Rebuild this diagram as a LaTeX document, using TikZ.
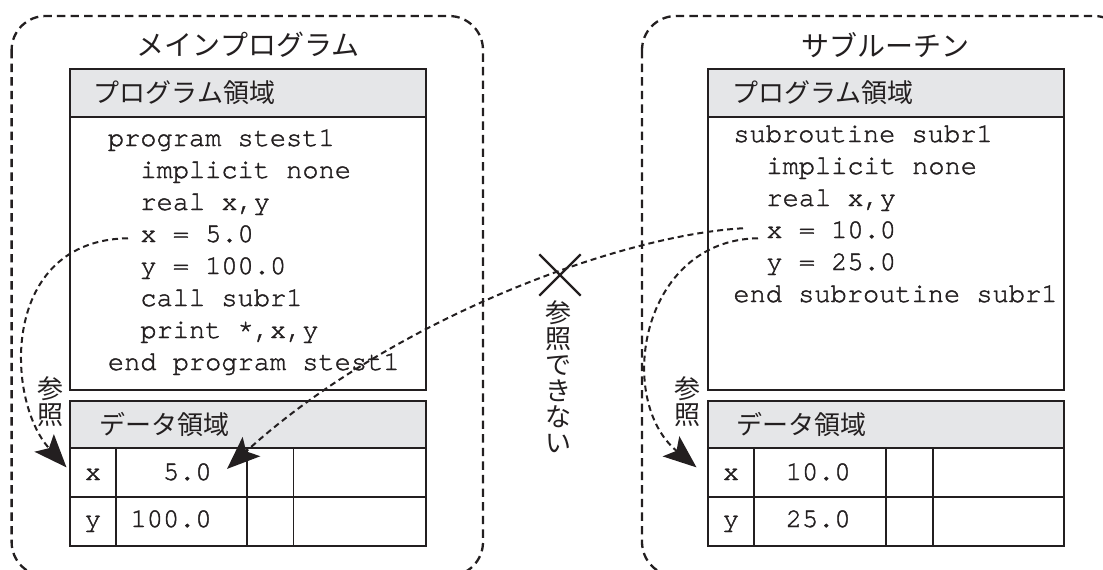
\documentclass[tikz,border=0pt]{standalone}
\usepackage{fontspec}
\usepackage{tikz}
\usetikzlibrary{arrows.meta}
\usetikzlibrary{shapes.misc}
\newfontfamily\jpfont{Noto Sans CJK JP}
\newfontfamily\codefont[FakeBold = 1.5]{TeX Gyre Cursor}
\definecolor{ink}{RGB}{35,31,32}
\definecolor{hgray}{RGB}{229,230,232}
\tikzset{outer/.style = {draw = ink, line width = 1.15pt, dash pattern = on 4.2pt off 2.6pt, rounded corners = 17pt}}
\tikzset{frame/.style = {draw = ink, line width = 1.35pt}}
\tikzset{grid/.style = {draw = ink, line width = 0.85pt}}
\tikzset{boxtitle/.style = {inner sep = 0, text = ink, font = \jpfont\fontsize{14}{16}\selectfont}}
\tikzset{head/.style = {anchor = west, inner sep = 0, text = ink, font = \jpfont\fontsize{13}{15}\selectfont}}
\tikzset{code/.style = {anchor = base west, inner sep = 0, text = ink, font = \codefont\fontsize{13.5}{16}\selectfont}}
\tikzset{cell/.style = {inner sep = 0, text = ink, font = \codefont\fontsize{13.5}{16}\selectfont}}
\tikzset{vlabel/.style = {inner sep = 0, align = center, text = ink, font = \jpfont\fontsize{13}{13}\selectfont}}
\tikzset{refarrow/.style = {draw = ink, line width = 1pt, dash pattern = on 3pt off 2pt, -{Stealth[length = 16.5pt, width = 13pt, inset = 3.5pt]}}}

\begin{document}
\begin{tikzpicture}[x = 0.5pt, y = -0.5pt]
  \useasboundingbox (0, 0) rectangle (1103, 569);

  % main program
  \draw [outer] (11.6, 16) rectangle (483, 576);
  \node [boxtitle] (mtitle) at (248, 45) {メインプログラム};

  \draw [frame, fill = hgray] (70, 69) rectangle (426, 117);
  \draw [frame] (70, 117) rectangle (426, 390);
  \node [head] (mphead) at (93.5, 93) {プログラム領域};

  \node [code] (m1) at (107.5, 146) {program stest1};
  \node [code] (m2) at (140, 178) {implicit none};
  \node [code] (m3) at (140, 210) {real x,y};
  \node [code] (mx) at (140, 242) {x = 5.0};
  \node [code] (my) at (140, 274) {y = 100.0};
  \node [code] (m6) at (140, 306) {call subr1};
  \node [code] (m7) at (140, 338) {print *,x,y};
  \node [code] (m8) at (107.5, 370) {end program stest1};

  \draw [frame, fill = hgray] (70, 401) rectangle (426, 448);
  \draw [frame] (70, 448) rectangle (426, 546);
  \draw [grid] (70, 497) -- (426, 497)
               (115.7, 448) -- (115.7, 546)
               (247.3, 448) -- (247.3, 546)
               (293.6, 448) -- (293.6, 546);
  \node [head] (mdhead) at (99, 424) {データ領域};

  \node [cell, anchor = base] (mxk) at (93, 480) {x};
  \node [cell, anchor = base] (myk) at (93, 527) {y};
  \node [cell, anchor = base east] (mxv) at (212, 480) {5.0};
  \node [cell, anchor = base east] (myv) at (212, 527) {100.0};

  \node [vlabel] (mref) at (51, 402) {参\\照};

  % subroutine
  \draw [outer] (642, 16) rectangle (1128, 576);
  \node [boxtitle] (stitle) at (885, 45) {サブルーチン};

  \draw [frame, fill = hgray] (708, 69) rectangle (1064, 117);
  \draw [frame] (708, 117) rectangle (1064, 390);
  \node [head] (sphead) at (732, 93) {プログラム領域};

  \node [code] (s1) at (733, 142) {subroutine subr1};
  \node [code] (s2) at (766, 174) {implicit none};
  \node [code] (s3) at (766, 206) {real x,y};
  \node [code] (sx) at (766, 238) {x = 10.0};
  \node [code] (sy) at (766, 270) {y = 25.0};
  \node [code] (s6) at (733, 302) {end subroutine subr1};

  \draw [frame, fill = hgray] (708, 401) rectangle (1064, 448);
  \draw [frame] (708, 448) rectangle (1064, 546);
  \draw [grid] (708, 497) -- (1064, 497)
               (754, 448) -- (754, 546)
               (886, 448) -- (886, 546)
               (933, 448) -- (933, 546);
  \node [head] (sdhead) at (736, 424) {データ領域};

  \node [cell, anchor = base] (sxk) at (731, 480) {x};
  \node [cell, anchor = base] (syk) at (731, 527) {y};
  \node [cell, anchor = base east] (sxv) at (851, 480) {10.0};
  \node [cell, anchor = base east] (syv) at (851, 527) {25.0};

  \node [vlabel] (sref) at (687, 402) {参\\照};

  % references
  \node [cross out, draw = ink, line width = 1.15pt, minimum size = 19.5pt, inner sep = 0] (nx) at (560, 275) {};
  \node [vlabel] (noref) at (558, 377) {参\\照\\で\\き\\な\\い};

  \draw [refarrow] ([xshift = -6pt, yshift = -2.2pt]mx.west)
    .. controls (0, 240) and (5, 400) .. ([xshift = -9pt, yshift = 3.5pt]mxk.west);
  \draw [refarrow] ([xshift = -4pt, yshift = -4.2pt]sx.west)
    .. controls (640, 240) and (615, 400) .. ([xshift = -13pt, yshift = 3.5pt]sxk.west);
  \draw [refarrow] ([xshift = -11.5pt, yshift = 0.8pt]sx.west)
    .. controls (620, 235) and (390, 320) .. ([xshift = 7.5pt, yshift = -3pt]mxv.north east);
\end{tikzpicture}
\end{document}
